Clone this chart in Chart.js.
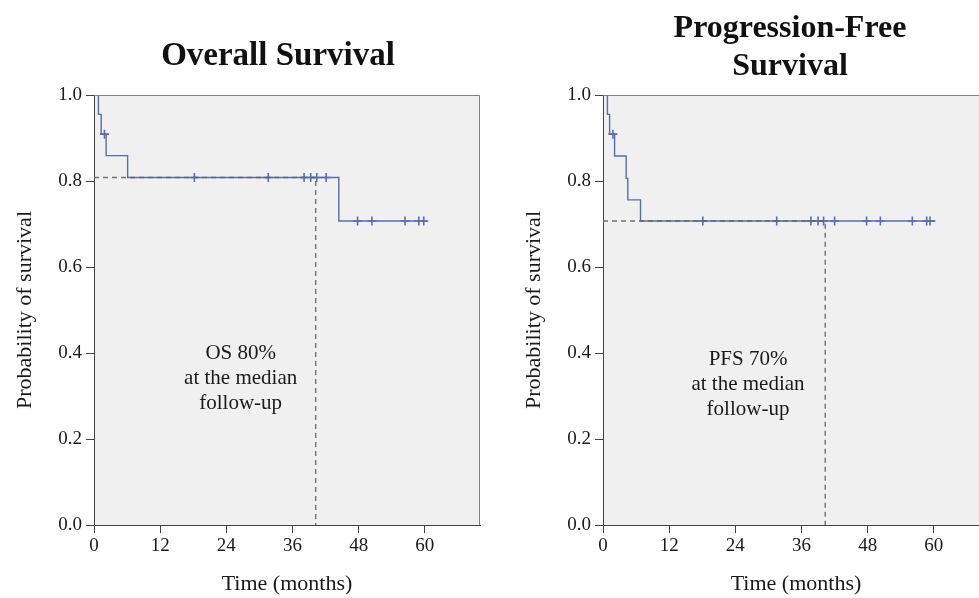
<!DOCTYPE html>
<html>
<head>
<meta charset="utf-8">
<script src="https://cdn.jsdelivr.net/npm/chart.js@4.4.1/dist/chart.umd.min.js"></script>
<style>
  html, body { margin: 0; padding: 0; background: #fff; overflow: hidden; width: 979px; height: 598px; }
  canvas { position: absolute; top: 0; }
  #osChart { left: 0; }
  #pfsChart { left: 509px; }
</style>
</head>
<body>
<canvas id="osChart" width="490" height="598"></canvas>
<canvas id="pfsChart" width="490" height="598"></canvas>
<script>
const xTicks = [0, 12, 24, 36, 48, 60];
const yTicks = [0, 0.2, 0.4, 0.6, 0.8, 1.0];

// overall survival - step times and survival after each step
const osTimes = [0, 0.8, 1.3, 2.2, 6.1, 44.4, 60.4];
const osSurv = [1.0, 0.955, 0.909, 0.859, 0.808, 0.707, 0.707];
const osCensorTimes = [1.9, 18.2, 31.6, 38.1, 39.3, 40.4, 42.1, 47.8, 50.4, 56.4, 58.9, 59.8];
const osCensorSurv = [0.909, 0.808, 0.808, 0.808, 0.808, 0.808, 0.808, 0.707, 0.707, 0.707, 0.707, 0.707];
const osMedian = [40.2, 0.808];

// progression-free survival
const pfsTimes = [0, 0.8, 1.2, 2.1, 4.2, 4.5, 6.8, 60.3];
const pfsSurv = [1.0, 0.955, 0.909, 0.858, 0.806, 0.756, 0.707, 0.707];
const pfsCensorTimes = [1.8, 18.1, 31.5, 37.7, 39.0, 40.0, 42.0, 47.8, 50.3, 56.1, 58.7, 59.3];
const pfsCensorSurv = [0.909, 0.707, 0.707, 0.707, 0.707, 0.707, 0.707, 0.707, 0.707, 0.707, 0.707, 0.707];
const pfsMedian = [40.3, 0.707];

const SERIF = "'Liberation Serif', 'Times New Roman', serif";
const BLUE = 'rgb(88, 108, 176)';

const panelPlugin = {
  id: 'panel',
  beforeDraw(chart) {
    const a = chart.chartArea, ctx = chart.ctx;
    ctx.save();
    ctx.fillStyle = '#f0f0f0';
    ctx.fillRect(a.left, a.top, a.right - a.left, a.bottom - a.top);
    ctx.restore();
  },
  afterDraw(chart, args, opts) {
    const a = chart.chartArea, ctx = chart.ctx;
    ctx.save();
    ctx.strokeStyle = '#808080';
    ctx.lineWidth = 1;
    ctx.beginPath();
    ctx.moveTo(a.left, a.top + 0.5);
    ctx.lineTo(a.right - 0.5, a.top + 0.5);
    ctx.lineTo(a.right - 0.5, a.bottom);
    ctx.stroke();

    // title
    ctx.fillStyle = '#111';
    ctx.textAlign = 'center';
    ctx.textBaseline = 'alphabetic';
    ctx.font = 'bold ' + opts.titleSize + 'px ' + SERIF;
    opts.title.forEach((t, i) => ctx.fillText(t, opts.titleX, opts.titleY + i * 38));

    // note in the plot
    const x = chart.scales.x.getPixelForValue(opts.noteAt[0]);
    const y = chart.scales.y.getPixelForValue(opts.noteAt[1]);
    ctx.font = '21px ' + SERIF;
    ctx.textBaseline = 'middle';
    ctx.fillStyle = '#1a1a1a';
    opts.note.forEach((t, i) => ctx.fillText(t, x, y + (i - 1) * 25));
    ctx.restore();
  }
};

function makeChart(id, times, surv, cTimes, cSurv, median, panel) {
  const curve = times.map((t, i) => ({ x: t, y: surv[i] }));
  const censored = cTimes.map((t, i) => ({ x: t, y: cSurv[i] }));
  const ref = [
    { x: 0, y: median[1] },
    { x: median[0], y: median[1] },
    { x: median[0], y: 0 }
  ];
  return new Chart(document.getElementById(id), {
    type: 'line',
    data: {
      datasets: [{
        data: ref,
        borderColor: 'rgba(100, 100, 100, 0.9)',
        borderWidth: 1.4,
        borderDash: [5, 4],
        pointRadius: 0
      }, {
        data: curve,
        stepped: true,
        borderColor: BLUE,
        borderWidth: 1.4,
        pointRadius: 0
      }, {
        data: censored,
        showLine: false,
        pointStyle: 'cross',
        pointRadius: 4.5,
        borderColor: BLUE,
        borderWidth: 1.6
      }]
    },
    options: {
      responsive: false,
      animation: false,
      layout: { padding: { top: 95, right: 10, left: 0, bottom: 0 } },
      plugins: {
        legend: { display: false },
        tooltip: { enabled: false },
        panel: panel
      },
      scales: {
        x: {
          type: 'linear',
          min: 0,
          max: 70,
          afterBuildTicks: s => { s.ticks = xTicks.map(v => ({ value: v })); },
          afterFit: s => { s.height = 73; },
          ticks: { font: { family: SERIF, size: 19 }, color: '#1a1a1a', padding: 2 },
          grid: { drawOnChartArea: false, drawTicks: true, tickLength: 8, color: '#444' },
          border: { color: '#444', width: 1 },
          title: { display: true, text: 'Time (months)', font: { family: SERIF, size: 22 }, color: '#1a1a1a', padding: { top: 0, bottom: 1 } }
        },
        y: {
          min: 0,
          max: 1,
          afterBuildTicks: s => { s.ticks = yTicks.map(v => ({ value: v })); },
          afterFit: s => { s.width = 94; },
          ticks: { font: { family: SERIF, size: 19 }, color: '#1a1a1a', padding: 4, callback: v => v.toFixed(1) },
          grid: { drawOnChartArea: false, drawTicks: true, tickLength: 8, color: '#444' },
          border: { color: '#444', width: 1 },
          title: { display: true, text: 'Probability of survival', font: { family: SERIF, size: 22 }, color: '#1a1a1a', padding: { top: 12, bottom: 0 } }
        }
      }
    },
    plugins: [panelPlugin]
  });
}

makeChart('osChart', osTimes, osSurv, osCensorTimes, osCensorSurv, osMedian, {
  title: ['Overall Survival'], titleSize: 33, titleX: 278, titleY: 65,
  note: ['OS 80%', 'at the median', 'follow-up'], noteAt: [26.6, 0.34]
});
makeChart('pfsChart', pfsTimes, pfsSurv, pfsCensorTimes, pfsCensorSurv, pfsMedian, {
  title: ['Progression-Free', 'Survival'], titleSize: 32, titleX: 281, titleY: 37,
  note: ['PFS 70%', 'at the median', 'follow-up'], noteAt: [26.3, 0.326]
});
</script>
</body>
</html>
